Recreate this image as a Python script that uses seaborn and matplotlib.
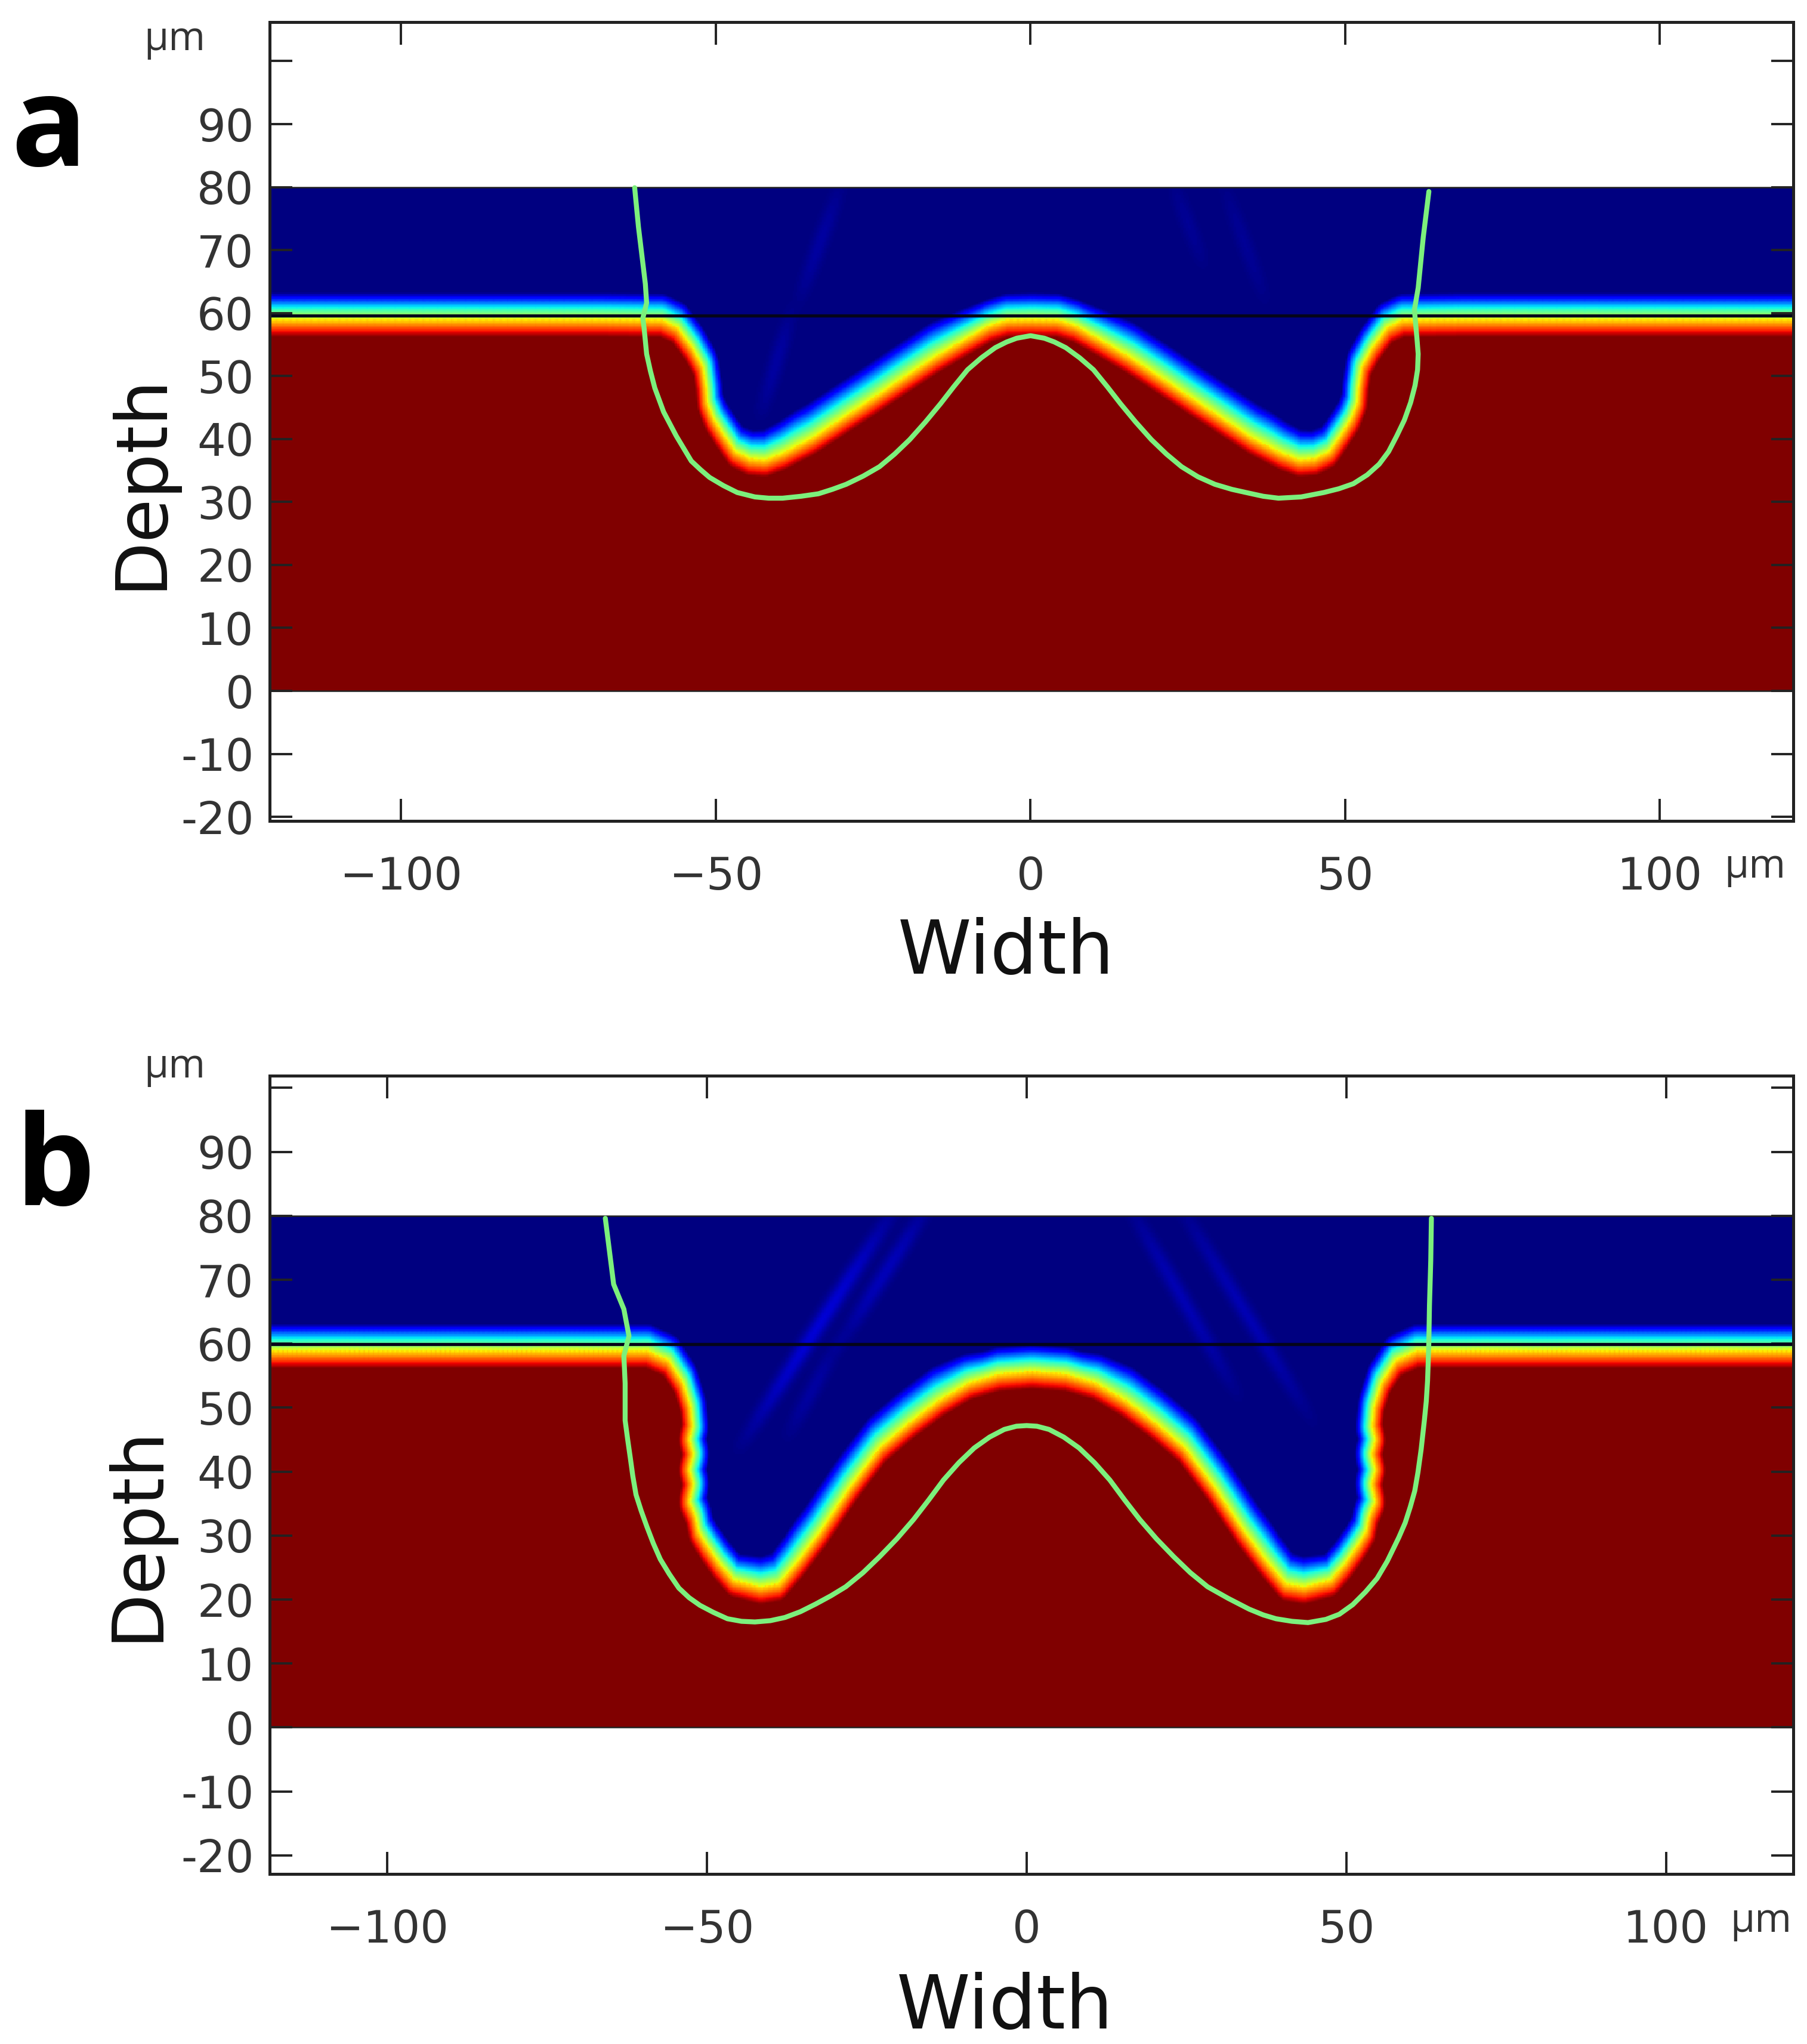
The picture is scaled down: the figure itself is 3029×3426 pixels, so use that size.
import numpy as np
import seaborn as sns
import matplotlib.pyplot as plt
from matplotlib.path import Path

# interface position (yellow level), left half, mirrored later
surf_a_x = [-125, -68.9, -59.3, -56.8, -54.4, -52.7, -52.2, -52.0, -51.0, -49.6, -47.6, -45.2, -42.8, -39.9,
            -35.1, -30.2, -25.4, -20.6, -15.7, -10.9, -7.0, -4.1, 0]
surf_a_y = [58.9, 58.9, 58.8, 57.6, 54.4, 51.3, 48.1, 45.6, 43.1, 40.9, 38.0, 36.8, 36.6, 37.7,
            40.2, 43.4, 46.5, 49.7, 52.9, 55.7, 57.9, 58.8, 58.9]
surf_b_x = [-125, -61.6, -58.2, -55.9, -54.7, -54.4, -54.9, -54.3, -54.9, -54.3, -54.9, -53.9, -53.4, -52.1, -50.1,
            -47.8, -43.5, -40.6, -37.8, -34.0, -29.2, -24.4, -19.7, -14.9, -10.2, -5.4, 0]
surf_b_y = [58.8, 58.8, 57.3, 53.8, 50.0, 47.0, 44.9, 42.6, 40.2, 37.9, 35.2, 32.9, 30.5, 28.4, 25.6,
            23.0, 21.9, 22.4, 25.6, 30.5, 37.5, 43.7, 47.6, 51.1, 53.8, 55.2, 55.6]

# green contours
green_a_x = [-62.9, -62.3, -61.2, -61.0, -61.6, -61.4, -61.0, -60.4, -59.7, -59.0, -58.3, -57.3, -56.3, -55.1, -53.9,
             -52.4, -51.0, -48.8, -46.6, -43.8, -41.6, -39.4, -36.5, -33.7, -31.5, -29.3, -26.6, -24.0, -21.6, -19.2,
             -16.7, -14.3, -12.2, -10.0, -7.8, -5.6, -3.8, -2.2, 0,
             2.2, 3.8, 5.6, 7.8, 10.0, 12.2, 14.3, 16.7, 19.2, 21.6, 24.0, 26.6, 29.3, 32.0, 34.7, 37.0, 39.4, 43.0,
             46.6, 49.0, 51.3, 53.5, 55.4, 56.9, 58.2, 59.4, 60.4, 61.1, 61.5, 61.6, 61.4, 61.0, 61.6, 62.4, 63.3]
green_a_y = [79.9, 73.7, 64.6, 61.6, 59.2, 57.6, 53.5, 50.8, 48.1, 46.2, 44.3, 42.4, 40.5, 38.5, 36.5,
             35.1, 33.9, 32.6, 31.5, 30.8, 30.6, 30.6, 30.9, 31.3, 32.0, 32.8, 34.1, 35.6, 37.6, 39.9,
             42.7, 45.6, 48.3, 51.0, 52.9, 54.5, 55.4, 56.0, 56.4,
             56.0, 55.4, 54.5, 52.9, 51.0, 48.3, 45.6, 42.7, 39.9, 37.6, 35.6, 34.0, 32.8, 32.0, 31.4, 30.9, 30.6, 30.8,
             31.5, 32.1, 32.9, 34.3, 36.0, 38.0, 40.5, 43.0, 45.8, 48.5, 51.0, 53.5, 56.0, 60.5, 64.0, 72.0, 79.3]
green_b_x = [-65.9, -64.6, -63.0, -62.2, -63.0, -62.8, -62.8, -62.4, -62.0, -61.6, -61.1, -60.3, -59.4, -58.4, -57.3,
             -55.9, -54.4, -52.8, -51.1, -49.0, -46.8, -44.6, -42.5, -40.1, -37.8, -35.4, -33.0, -30.6, -28.3, -25.6,
             -23.0, -20.3, -17.7, -15.3, -13.0, -10.6, -8.2, -5.8, -3.5, -1.6, 0,
             1.6, 3.5, 5.8, 8.2, 10.6, 13.0, 15.3, 17.7, 20.3, 23.0, 25.6, 28.3, 31.5, 34.8, 37.0, 39.0, 41.5, 44.0,
             46.8, 48.9, 51.0, 53.0, 54.8, 56.4, 58.2, 59.2, 60.0, 60.7, 61.2, 61.7, 62.2, 62.5, 62.7, 62.8, 62.9,
             63.0, 63.2, 63.3]
green_b_y = [79.6, 69.3, 65.4, 61.2, 58.1, 53.8, 48.0, 45.0, 42.2, 39.3, 36.4, 33.9, 31.4, 28.8, 26.3,
             24.0, 21.8, 20.3, 19.1, 18.0, 17.0, 16.6, 16.5, 16.7, 17.2, 18.1, 19.3, 20.6, 22.0, 24.2,
             26.7, 29.5, 32.5, 35.6, 38.7, 41.4, 43.7, 45.4, 46.6, 47.1, 47.2,
             47.1, 46.6, 45.4, 43.7, 41.4, 38.7, 35.6, 32.5, 29.5, 26.7, 24.2, 22.0, 20.2, 18.5, 17.6, 17.0, 16.6, 16.4,
             16.9, 17.7, 19.2, 21.2, 23.3, 26.0, 29.7, 32.0, 34.5, 37.0, 39.9, 43.5, 48.0, 51.0, 54.2, 57.0, 60.3,
             66.0, 73.0, 79.6]

# faint streaks in the blue part: x0, y0, x1, y1, strength
streaks_a = [(-30, 82, -38, 60, 0.03), (-38, 62, -44, 42, 0.03), (30, 82, 38, 60, 0.02), (22, 82, 28, 66, 0.02)]
streaks_b = [(-20, 84, -48, 42, 0.075), (-15, 84, -32, 58, 0.05), (-30, 62, -40, 44, 0.03),
             (14, 84, 34, 50, 0.045), (22, 84, 46, 46, 0.045)]

# how much wider the blue side of the band is over the sloped flanks
flank_x = [0, 8, 16, 38, 47, 125]
flank_w = [1.0, 1.0, 1.3, 1.3, 1.0, 1.0]

depth_ticks = [-20, -10, 0, 10, 20, 30, 40, 50, 60, 70, 80, 90, 100]
depth_labels = ['-20', '-10', '0', '10', '20', '30', '40', '50', '60', '70', '80', '90', '']
width_ticks = [-100, -50, 0, 50, 100]
width_labels = ['\u2212100', '\u221250', '0', '50', '100']

W, H = 3029, 3426
FX = np.arange(-122, 122, 0.25)
FY = np.arange(0, 80, 0.25)


def phase_field(sx, sy, streaks):
    sx = np.array(sx, float)
    sy = np.array(sy, float)
    xx = np.r_[sx, -sx[-2::-1]]
    yy = np.r_[sy, sy[-2::-1]]
    # walk along the interface so the distance is smooth
    seg = np.r_[0, np.cumsum(np.hypot(np.diff(xx), np.diff(yy)))]
    t = np.linspace(0, seg[-1], 900)
    px, py = np.interp(t, seg, xx), np.interp(t, seg, yy)
    X, Y = np.meshgrid(FX, FY)
    solid = Path(np.c_[np.r_[xx, 125, -125], np.r_[yy, -5, -5]])
    inside = solid.contains_points(np.c_[X.ravel(), Y.ravel()]).reshape(X.shape)
    widen = np.interp(np.abs(FX), flank_x, flank_w)
    field = np.zeros(X.shape)
    for i, y in enumerate(FY):
        # the band is thinner on the steep walls than on the flat part
        dist = np.sqrt((1.6 * (FX[:, None] - px)) ** 2 + (y - py) ** 2).min(axis=1)
        field[i] = np.where(inside[i], 0.65 + dist / 8.0, 0.65 - dist / (6.5 * widen))
    field = np.clip(field, 0, 1)
    for x0, y0, x1, y1, amp in streaks:
        nx, ny = y1 - y0, -(x1 - x0)
        ln = np.hypot(nx, ny)
        off = ((X - x0) * nx + (Y - y0) * ny) / ln
        along = np.clip(((X - x0) * (x1 - x0) + (Y - y0) * (y1 - y0)) / ln ** 2, 0, 1)
        field += amp * np.exp(-(off / 1.3) ** 2) * np.sin(np.pi * along) * (field < 0.1)
    return field


def px_fig(x, y):
    return x / W, 1 - y / H


def draw_panel(top, bottom, xlim, ylim, surf_x, surf_y, streaks, gx, gy, line_y, letter, letter_pos,
               width_pos, depth_pos, unit_top, unit_right):
    fx0, fy1 = px_fig(452, top)
    fx1, fy0 = px_fig(3006, bottom)
    ax = fig.add_axes([fx0, fy0, fx1 - fx0, fy1 - fy0])
    ax.set_xlim(xlim)
    ax.set_ylim(ylim)

    inset = ax.inset_axes([xlim[0], 0, xlim[1] - xlim[0], 80], transform=ax.transData, zorder=0)
    field = phase_field(surf_x, surf_y, streaks)
    sns.heatmap(field[::-1], ax=inset, cbar=False, cmap='jet', vmin=0, vmax=1,
                xticklabels=False, yticklabels=False)
    inset.set_axis_off()

    ax.axhline(line_y, color='#05051a', lw=3.8, zorder=2)
    ax.axhline(80, color='#222222', lw=1.8, zorder=2)
    ax.axhline(0, color='#222222', lw=1.8, zorder=2)
    sns.lineplot(x=gx, y=gy, ax=ax, sort=False, estimator=None, color='#7CF07C', lw=6.0, zorder=3)

    ax.set_xticks(width_ticks)
    ax.set_xticklabels(width_labels)
    ax.set_yticks(depth_ticks)
    ax.set_yticklabels(depth_labels)
    ax.set_xlabel('')
    ax.set_ylabel('')
    ax.tick_params(axis='x', direction='in', top=True, bottom=True, length=27, width=2.8,
                   color='#222222', labelsize=54, labelcolor='#333333', pad=42)
    ax.tick_params(axis='y', direction='in', left=True, right=True, length=27, width=2.8,
                   color='#222222', labelsize=54, labelcolor='#333333', pad=19)
    for s in ax.spines.values():
        s.set_linewidth(3.6)
        s.set_color('#222222')

    fig.text(*px_fig(*letter_pos), letter, fontsize=152, fontweight='bold', family='Open Sans',
             ha='center', va='center', color='black')
    fig.text(*px_fig(*width_pos), 'Width', fontsize=90, ha='center', va='center', color='#111111')
    fig.text(*px_fig(*depth_pos), 'Depth', fontsize=86, rotation=90, ha='center', va='center', color='#111111')
    fig.text(*px_fig(*unit_top), '\u00b5m', fontsize=48, family='Open Sans', ha='center', va='center', color='#333333')
    fig.text(*px_fig(*unit_right), '\u00b5m', fontsize=48, family='Open Sans', ha='center', va='center', color='#333333')
    return ax


sns.set_theme(style='white')
plt.rcParams['font.family'] = ['DejaVu Sans']

fig = plt.figure(figsize=(W / 100, H / 100), dpi=100, facecolor='white')

draw_panel(37, 1376, (-120.9, 121.2), (-20.65, 106.2), surf_a_x, surf_a_y, streaks_a,
           green_a_x, green_a_y, 59.6, 'a', (82, 224), (1686, 1598), (236, 807), (293, 66), (2942, 1453))
draw_panel(1803, 3141, (-118.4, 119.9), (-22.9, 101.9), surf_b_x, surf_b_y, streaks_b,
           green_b_x, green_b_y, 59.9, 'b', (92, 1966), (1684, 3366), (230, 2570), (293, 1788), (2952, 3220))

fig.savefig('out.png', dpi=100)
